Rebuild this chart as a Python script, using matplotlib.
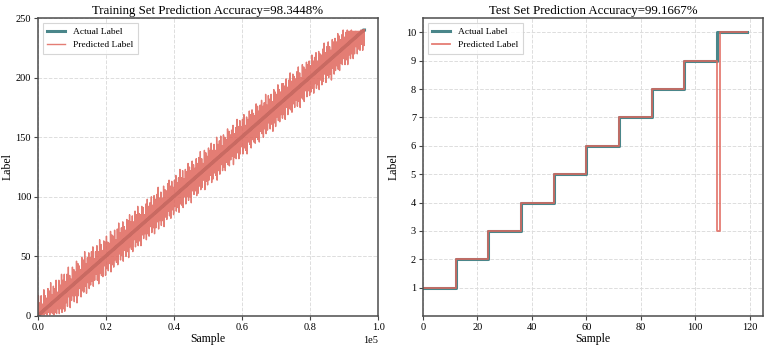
import numpy as np
import matplotlib
matplotlib.use("Agg")
import matplotlib.pyplot as plt

plt.rcParams['font.family'] = ['Liberation Serif', 'DejaVu Serif']

# ---------------- data ----------------
train_classes = list(range(1, 241))          # class labels of the training set
train_per_class = 400                        # samples per class
train_accuracy = "98.3448%"
# estimated misclassification spikes per class (upward / downward deviation)
train_dev_up = [
    16, 9, 14, 6, 17, 11, 8, 15, 12, 18, 7, 13, 10, 16, 5, 14, 9, 17, 11, 15,
    8, 13, 18, 10, 6, 15, 12, 9, 17, 14, 11, 7, 16, 13, 19, 8, 12, 15, 10, 14,
    17, 6, 11, 15, 9, 18, 13, 7, 14, 12, 16, 10, 8, 17, 13, 11, 15, 6, 14, 18,
    9, 12, 16, 11, 7, 15, 13, 17, 10, 14, 8, 16, 12, 18, 11, 9, 15, 13, 6, 14,
    17, 10, 12, 16, 8, 15, 11, 14, 19, 9, 13, 7, 16, 12, 10, 15, 17, 11, 14, 8,
    13, 16, 9, 12, 18, 10, 15, 7, 14, 11, 17, 13, 9, 16, 12, 8, 15, 10, 14, 18,
    11, 6, 16, 13, 9, 15, 12, 17, 10, 14, 8, 18, 11, 13, 16, 7, 15, 12, 9, 17,
    14, 10, 13, 16, 8, 12, 18, 11, 15, 9, 14, 17, 7, 13, 10, 16, 12, 15, 11, 8,
    17, 14, 9, 13, 16, 10, 12, 18, 8, 15, 11, 14, 7, 16, 13, 10, 17, 12, 9, 15,
    14, 11, 16, 8, 13, 18, 10, 15, 12, 9, 14, 17, 11, 6, 16, 13, 10, 15, 12, 14,
    9, 17, 11, 13, 16, 8, 15, 12, 10, 14, 18, 9, 13, 16, 11, 7, 15, 12, 14, 10,
    16, 13, 9, 12, 15, 8, 11, 12, 10, 9, 9, 7, 6, 5, 4, 3, 2, 2, 1, 0]
train_dev_down = [
    0, 1, 2, 3, 4, 4, 6, 5, 8, 7, 9, 11, 10, 12, 9, 14, 11, 15, 13, 16,
    10, 14, 7, 17, 12, 9, 15, 11, 18, 13, 8, 16, 12, 14, 10, 17, 9, 15, 13, 11,
    16, 12, 8, 14, 18, 10, 13, 15, 7, 16, 11, 14, 9, 17, 12, 15, 10, 13, 16, 8,
    14, 11, 17, 9, 15, 12, 18, 10, 13, 16, 7, 14, 11, 15, 12, 17, 9, 13, 10, 16,
    12, 15, 8, 14, 11, 17, 13, 9, 16, 10, 15, 12, 18, 11, 14, 8, 13, 16, 10, 15,
    9, 14, 12, 17, 11, 13, 16, 8, 15, 10, 14, 12, 18, 9, 13, 11, 16, 15, 10, 14,
    13, 8, 17, 11, 15, 12, 9, 16, 14, 10, 13, 18, 11, 15, 8, 14, 12, 16, 10, 13,
    15, 11, 9, 17, 12, 14, 10, 16, 13, 8, 15, 11, 14, 18, 9, 12, 16, 10, 13, 15,
    11, 14, 17, 9, 12, 16, 10, 15, 13, 8, 14, 11, 18, 12, 16, 9, 13, 15, 10, 14,
    12, 17, 8, 15, 11, 13, 16, 10, 14, 9, 15, 12, 18, 11, 13, 16, 8, 14, 10, 15,
    13, 11, 16, 9, 14, 12, 17, 10, 15, 13, 8, 16, 11, 14, 12, 18, 9, 15, 13, 10,
    14, 16, 11, 13, 9, 15, 12, 17, 10, 14, 11, 16, 13, 8, 15, 12, 14, 10, 16, 13]
train_spike_up_offset = 130
train_spike_down_offset = 270

test_classes = list(range(1, 11))
test_per_class = 12
test_accuracy = "99.1667%"
test_error_index = [108]
test_error_pred = [3]

# ---------------- build series ----------------
train_actual = np.repeat(train_classes, train_per_class).astype(float)
train_pred = train_actual.copy()
for k in range(len(train_classes)):
    base = k * train_per_class
    train_pred[base + train_spike_up_offset] += train_dev_up[k]
    train_pred[base + train_spike_down_offset] -= train_dev_down[k]
train_x = np.arange(len(train_actual))

test_actual = np.repeat(test_classes, test_per_class).astype(float)
test_pred = test_actual.copy()
for i, p in zip(test_error_index, test_error_pred):
    test_pred[i] = p
test_x = np.arange(len(test_actual))

# ---------------- plot ----------------
teal = '#4a868a'
red = '#e0665c'
fig = plt.figure(figsize=(7.67, 3.48), dpi=100)
ax1 = fig.add_axes([0.0495, 0.092, 0.4435, 0.856])
ax2 = fig.add_axes([0.5515, 0.092, 0.4435, 0.856])

ax1.plot(train_x, train_actual, color=teal, lw=2.2, label='Actual Label')
ax1.plot(train_x, train_pred, color=red, lw=1.0, alpha=0.85, label='Predicted Label')
ax1.set_xlim(0, 100000)
ax1.set_ylim(0, 250)
ax1.ticklabel_format(axis='x', style='sci', scilimits=(0, 0))
ax1.set_title('Training Set Prediction Accuracy=' + train_accuracy, fontsize=9.3, pad=3)

ax2.step(test_x, test_actual, where='post', color=teal, lw=2.2, label='Actual Label')
ax2.step(test_x, test_pred, where='post', color=red, lw=1.3, alpha=0.85, label='Predicted Label')
ax2.set_xlim(0, 125)
ax2.set_ylim(0, 10.5)
ax2.set_yticks(range(1, 11))
ax2.set_title('Test Set Prediction Accuracy=' + test_accuracy, fontsize=9.3, pad=3)

for ax in (ax1, ax2):
    ax.set_xlabel('Sample', fontsize=8.5, labelpad=1)
    ax.set_ylabel('Label', fontsize=8.5)
    ax.grid(True, linestyle='--', color='#dddddd', lw=0.7)
    ax.set_axisbelow(True)
    ax.tick_params(labelsize=7.5, length=3, width=0.8, color='#444444', pad=2)
    for s in ax.spines.values():
        s.set_color('#4d4d4d')
        s.set_linewidth(1.1)
    leg = ax.legend(loc='upper left', fontsize=6.8, frameon=True, fancybox=False,
                    edgecolor='#cccccc', handlelength=1.9, borderpad=0.5)
    leg.get_frame().set_linewidth(0.8)
ax1.yaxis.set_label_coords(-0.072, 0.5)
ax2.yaxis.set_label_coords(-0.068, 0.5)
ax1.xaxis.get_offset_text().set_fontsize(7.5)

fig.savefig('out.png', dpi=100)
